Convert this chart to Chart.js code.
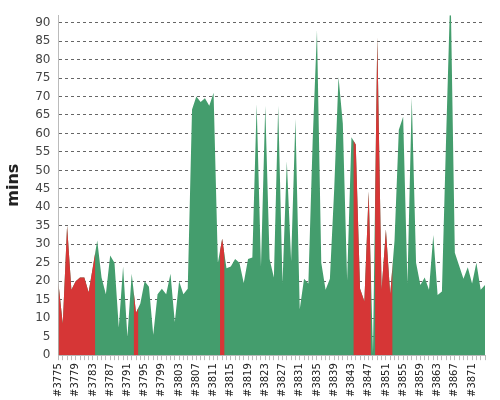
<!DOCTYPE html>
<html><head><meta charset="utf-8">
<script src="https://cdn.jsdelivr.net/npm/chart.js@4"></script>
<style>html,body{margin:0;padding:0;background:#fff}#w{width:500px;height:400px}</style>
</head><body><div id="w"><canvas id="c"></canvas></div>
<script>
const builds = [];
for (let b = 3775; b <= 3874; b++) builds.push('#' + b);
const minutes = [19.4,8.5,35,17.7,20,21,21,17,24,31,21,16.5,27,25,7.5,24,5,22,11.5,14,
20,18.5,5.5,16.5,18,16.5,22,9,20,16.5,18,66.5,70,68.5,69.5,67.5,71,25,31.5,23.5,
24,26,25,19.5,26,26.4,68,24,67.5,26,21,67.5,19.5,52.5,25.5,64,12.4,20.7,19.4,58,
88,25,17.7,20.7,45,75.3,62.7,20.3,59,57,18,14.6,44.3,0.6,86,17.7,34,16.5,31,61,
64.5,19.4,69.7,25,19,21,17.7,32.5,16.3,17.2,60,100,27.7,24.2,20.7,23.8,19.4,25,17.7,19];
const failed = [0,1,2,3,4,5,6,7,8,18,38,69,70,71,72,74,75,76,77];
const GREEN = '#449d6d', RED = '#d63636';

const redPlugin = {
  id: 'redRuns',
  beforeDatasetsDraw(chart) {
    const meta = chart.getDatasetMeta(0);
    const pts = meta.data, ca = chart.chartArea, ctx = chart.ctx;
    const base = chart.scales.y.getPixelForValue(0);
    ctx.save();
    ctx.beginPath();
    ctx.rect(ca.left, ca.top, ca.right - ca.left, ca.bottom - ca.top);
    ctx.clip();
    ctx.beginPath();
    failed.forEach(i => {
      const x = pts[i].x;
      const l = i > 0 ? (pts[i-1].x + x) / 2 : x;
      const r = i < pts.length - 1 ? (pts[i+1].x + x) / 2 : x;
      ctx.rect(l, ca.top, r - l, base - ca.top);
    });
    ctx.clip();
    ctx.beginPath();
    ctx.moveTo(pts[0].x, base);
    pts.forEach(p => ctx.lineTo(p.x, p.y));
    ctx.lineTo(pts[pts.length-1].x, base);
    ctx.closePath();
    ctx.fillStyle = RED;
    ctx.fill();
    ctx.restore();
  }
};

new Chart(document.getElementById('c'), {
  type: 'line',
  data: { labels: builds, datasets: [{
    data: minutes, fill: 'origin', backgroundColor: GREEN,
    borderWidth: 0, pointRadius: 0, tension: 0
  }]},
  options: {
    responsive: true, maintainAspectRatio: false, animation: false,
    layout: { padding: { top: 3, right: 8 } },
    plugins: { legend: { display: false }, tooltip: { enabled: false },
      filler: { drawTime: 'beforeDatasetsDraw' } },
    scales: {
      x: { offset: false,
        grid: { display: true, drawOnChartArea: false, tickLength: 5, color: '#bbb' },
        border: { color: '#bbb' },
        ticks: { autoSkip: false, maxRotation: 90, minRotation: 90, color: '#222',
          font: { family: 'DejaVu Sans', size: 10 },
          callback: (v, i) => i % 4 === 0 ? builds[i] : '' } },
      y: { min: 0, max: 92,
        afterBuildTicks: a => { a.ticks = []; for (let v = 0; v <= 90; v += 5) a.ticks.push({ value: v }); },
        grid: { color: '#666', drawTicks: false, tickBorderDash: [3,3] },
        border: { dash: [3,3], display: true, color: '#bbb' },
        ticks: { color: '#444', padding: 8, font: { family: 'DejaVu Sans', size: 12 } },
        title: { display: true, text: 'mins', color: '#222', font: { family: 'DejaVu Sans', size: 16, weight: 'bold' } } }
    }
  },
  plugins: [redPlugin]
});
</script></body></html>
